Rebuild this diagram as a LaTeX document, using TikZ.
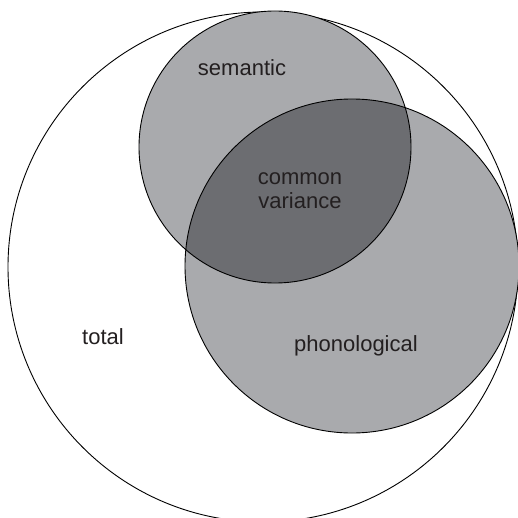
\documentclass[tikz,border=0pt]{standalone}
\usepackage{fontspec}
\setmainfont{Liberation Sans}
\definecolor{lightgrey}{HTML}{A9AAAD}
\definecolor{darkgrey}{HTML}{6C6D71}
\definecolor{textgrey}{HTML}{231F20}
\begin{document}
\begin{tikzpicture}[x=1pt, y=-1pt, line width=0.9pt]
        \useasboundingbox (0,0) rectangle (518,518);
        \clip (0,0) rectangle (518,518);
        % Gesamtkreis
        \draw (263,267) circle (255);
        % Teilkreise
        \fill[lightgrey] (275,147) circle (136);
        \fill[lightgrey] (352,266) circle (167);
        \begin{scope}
            \clip (275,147) circle (136);
            \fill[darkgrey] (352,266) circle (167);
        \end{scope}
        \draw (275,147) circle (136);
        \draw (352,266) circle (167);
        % Beschriftung
        \begin{scope}[font=\fontsize{22}{24}\selectfont, text=textgrey]
            \node (sem) at (242,68) {semantic};
            \node[align=center] (common) at (300,191) {common\\variance};
            \node (total) at (103,337) {total};
            \node (phon) at (356,346) {phonological};
        \end{scope}
    \end{tikzpicture}
\end{document}
